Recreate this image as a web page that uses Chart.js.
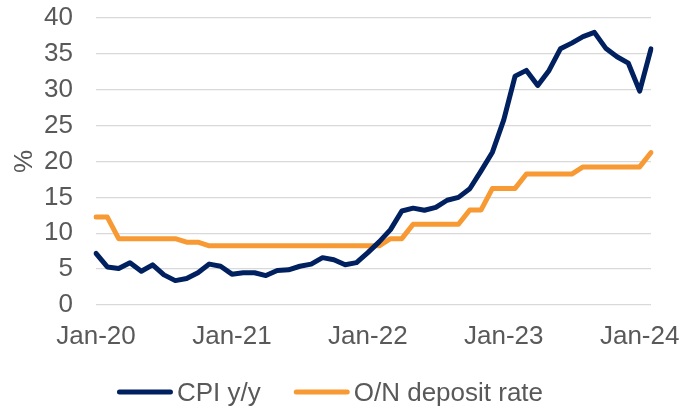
<!DOCTYPE html>
<html>
<head>
<meta charset="utf-8">
<script src="https://cdn.jsdelivr.net/npm/chart.js@4/dist/chart.umd.min.js"></script>
<style>
  html, body { margin: 0; padding: 0; background: #ffffff; }
  #wrap { width: 681px; height: 408px; }
</style>
</head>
<body>
<div id="wrap"><canvas id="c" width="681" height="408"></canvas></div>
<script>
// Monthly categories Jan-20 .. Feb-24
const months = ['Jan','Feb','Mar','Apr','May','Jun','Jul','Aug','Sep','Oct','Nov','Dec'];
const categories = [];
for (let y = 20; y <= 24; y++) {
  for (let m = 0; m < 12; m++) {
    if (y === 24 && m > 1) break;
    categories.push(months[m] + '-' + y);
  }
}

// CPI y/y, %
const cpiYoY = [
  7.2, 5.3, 5.1, 5.9, 4.7, 5.6, 4.2, 3.4, 3.7, 4.5, 5.7, 5.4,
  4.3, 4.5, 4.5, 4.1, 4.8, 4.9, 5.4, 5.7, 6.6, 6.3, 5.6, 5.9,
  7.3, 8.8, 10.5, 13.1, 13.5, 13.2, 13.6, 14.6, 15.0, 16.2, 18.7, 21.3,
  25.8, 31.9, 32.7, 30.6, 32.7, 35.7, 36.5, 37.4, 38.0, 35.8, 34.6, 33.7,
  29.8, 35.7
];

// O/N deposit rate, %
const depositRate = [
  12.25, 12.25, 9.25, 9.25, 9.25, 9.25, 9.25, 9.25, 8.75, 8.75, 8.25, 8.25,
  8.25, 8.25, 8.25, 8.25, 8.25, 8.25, 8.25, 8.25, 8.25, 8.25, 8.25, 8.25,
  8.25, 8.25, 9.25, 9.25, 11.25, 11.25, 11.25, 11.25, 11.25, 13.25, 13.25, 16.25,
  16.25, 16.25, 18.25, 18.25, 18.25, 18.25, 18.25, 19.25, 19.25, 19.25, 19.25, 19.25,
  19.25, 21.25
];

const seriesNames = ['CPI y/y', 'O/N deposit rate'];
const yTicks = [0, 5, 10, 15, 20, 25, 30, 35, 40];
const xTickLabels = ['Jan-20', 'Jan-21', 'Jan-22', 'Jan-23', 'Jan-24'];

const NAVY = '#002060';
const ORANGE = '#F79A33';
const TEXT = '#595959';
const FONT_FAMILY = "'Liberation Sans', Arial, sans-serif";
const font = { family: FONT_FAMILY, size: 26 };

const legendPlugin = {
  id: 'customLegend',
  afterDraw(chart) {
    const ctx = chart.ctx;
    ctx.save();
    ctx.font = '26px ' + FONT_FAMILY;
    const lineLen = 56, gap = 4, itemGap = 33;
    const items = chart.data.datasets.map(d => ({ text: d.label, color: d.borderColor, w: ctx.measureText(d.label).width }));
    let total = 0;
    items.forEach((it, i) => { total += lineLen + gap + it.w + (i < items.length - 1 ? itemGap : 0); });
    let x = 330 - total / 2;
    const y = 392;
    items.forEach(it => {
      ctx.strokeStyle = it.color;
      ctx.lineWidth = 5;
      ctx.lineCap = 'round';
      ctx.beginPath();
      ctx.moveTo(x + 2.5, y);
      ctx.lineTo(x + lineLen - 2.5, y);
      ctx.stroke();
      ctx.fillStyle = TEXT;
      ctx.textBaseline = 'alphabetic';
      ctx.textAlign = 'left';
      ctx.fillText(it.text, x + lineLen + gap, y + 8.5);
      x += lineLen + gap + it.w + itemGap;
    });
    ctx.restore();
  }
};

new Chart(document.getElementById('c'), {
  type: 'line',
  data: {
    labels: categories,
    datasets: [
      { label: seriesNames[0], data: cpiYoY, borderColor: NAVY, backgroundColor: NAVY,
        borderWidth: 5, pointRadius: 0, tension: 0, borderCapStyle: 'round', borderJoinStyle: 'round' },
      { label: seriesNames[1], data: depositRate, borderColor: ORANGE, backgroundColor: ORANGE,
        borderWidth: 5, pointRadius: 0, tension: 0, borderCapStyle: 'round', borderJoinStyle: 'round' }
    ]
  },
  options: {
    responsive: false,
    animation: false,
    devicePixelRatio: 1,
    layout: { padding: { top: 18, right: 30, bottom: 55, left: 0 } },
    plugins: { legend: { display: false }, tooltip: { enabled: false } },
    scales: {
      x: {
        type: 'category',
        offset: false,
        grid: { display: false, drawTicks: false },
        border: { display: false },
        ticks: {
          autoSkip: false, maxRotation: 0, minRotation: 0, padding: 16,
          color: TEXT, font: font,
          callback: function (v, i) {
            const lab = categories[i];
            return xTickLabels.includes(lab) ? lab : '';
          }
        },
        afterFit(s) { s.height = 48; s.paddingLeft = 0; s.paddingRight = 0; }
      },
      y: {
        min: 0, max: 40,
        afterBuildTicks(s) { s.ticks = yTicks.map(v => ({ value: v })); },
        ticks: { autoSkip: false, padding: 23, color: TEXT, font: font },
        grid: { color: '#D9D9D9', lineWidth: 1.3, drawTicks: false },
        border: { display: false },
        title: { display: true, text: '%', color: TEXT, font: font, padding: { top: 9, bottom: 0 } },
        afterFit(s) { s.width = 96; s.paddingTop = 0; s.paddingBottom = 0; }
      }
    }
  },
  plugins: [legendPlugin]
});
</script>
</body>
</html>
